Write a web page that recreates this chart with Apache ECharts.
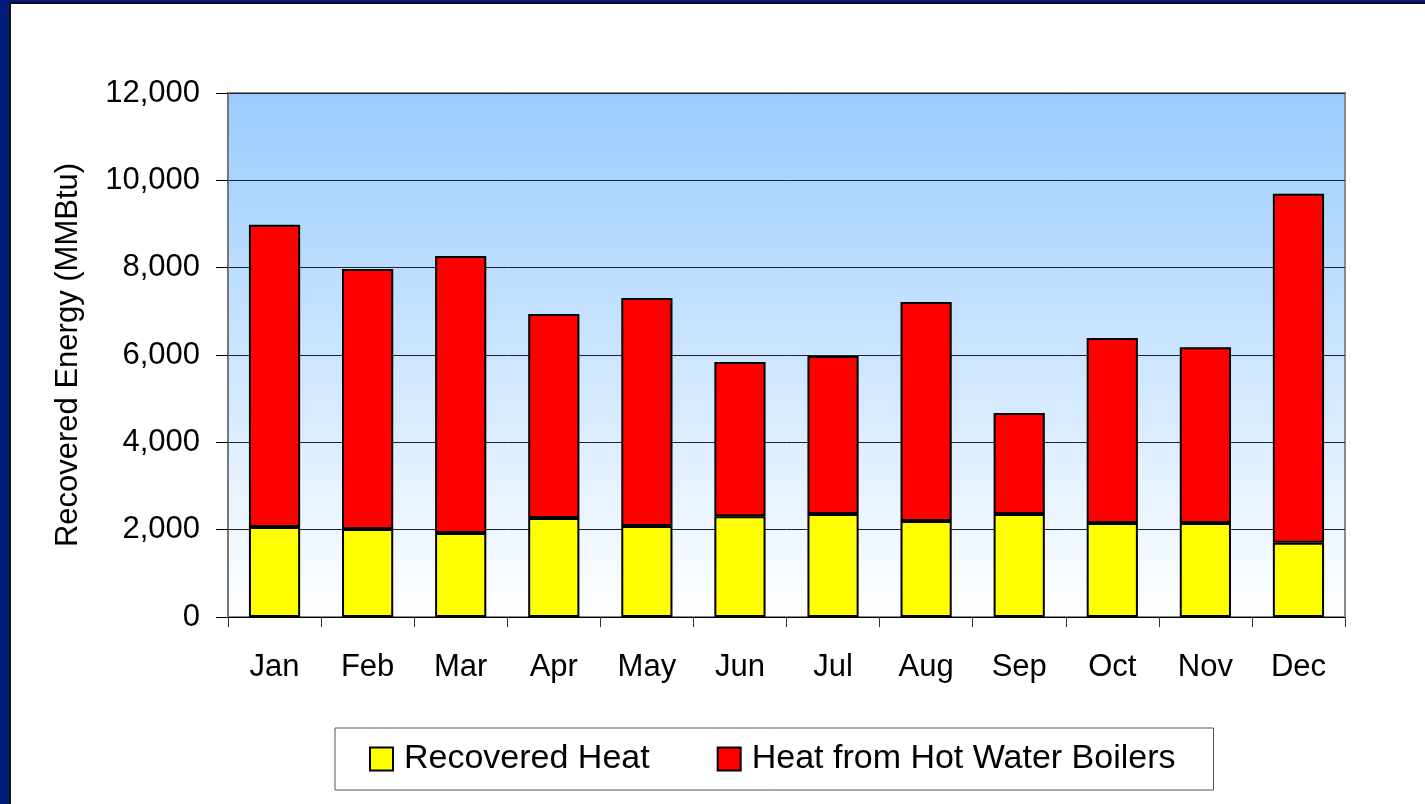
<!DOCTYPE html>
<html>
<head>
<meta charset="utf-8">
<script src="https://cdn.jsdelivr.net/npm/echarts@6/dist/echarts.min.js"></script>
<style>
  html, body { margin: 0; padding: 0; width: 1425px; height: 804px; overflow: hidden; background: #021c7c; }
  #frame { position: absolute; left: 9px; top: 2px; width: 1500px; height: 900px; background: #ffffff; border-left: 2px solid #111; border-top: 2px solid #111; }
  #chart { position: absolute; left: 0; top: 0; width: 1425px; height: 804px; }
</style>
</head>
<body>
<div id="frame"></div>
<div id="chart"></div>
<script>
const categories = ['Jan', 'Feb', 'Mar', 'Apr', 'May', 'Jun', 'Jul', 'Aug', 'Sep', 'Oct', 'Nov', 'Dec'];
const recoveredHeat = [2060, 2015, 1925, 2270, 2085, 2310, 2360, 2200, 2360, 2150, 2150, 1700];
const boilerHeat = [6920, 5955, 6345, 4670, 5220, 3530, 3615, 5015, 2310, 4240, 4030, 7990];
const seriesNames = ['Recovered Heat', 'Heat from Hot Water Boilers'];
const yAxisName = 'Recovered Energy (MMBtu)';
const yMin = 0, yMax = 12000, yInterval = 2000;

const chart = echarts.init(document.getElementById('chart'), null, { renderer: 'canvas' });
const font = '"Liberation Sans", Arial, sans-serif';
chart.setOption({
  backgroundColor: 'transparent',
  animation: false,
  grid: {
    left: 228, top: 93, width: 1117, height: 524,
    show: true,
    borderColor: '#8a8a8a', borderWidth: 2,
    backgroundColor: new echarts.graphic.LinearGradient(0, 0, 0, 1, [
      { offset: 0, color: '#99ccff' },
      { offset: 1, color: '#ffffff' }
    ])
  },
  legend: {
    left: 335, top: 728,
    padding: [14, 38, 14, 34],
    itemGap: 67,
    itemWidth: 23, itemHeight: 23,
    borderColor: '#555', borderWidth: 1,
    backgroundColor: '#ffffff',
    icon: 'rect',
    textStyle: { fontFamily: font, fontSize: 34, color: '#000', padding: [0, 0, 0, 6] },
    itemStyle: { borderColor: '#000', borderWidth: 2 },
    data: seriesNames
  },
  xAxis: {
    type: 'category',
    data: categories,
    axisLine: { lineStyle: { color: '#000', width: 1 } },
    axisTick: { show: true, length: 10, lineStyle: { color: '#333' } },
    axisLabel: { fontFamily: font, fontSize: 31, color: '#000', margin: 35 }
  },
  yAxis: {
    type: 'value',
    min: yMin, max: yMax, interval: yInterval,
    name: yAxisName,
    nameLocation: 'middle',
    nameGap: 144,
    nameTextStyle: { fontFamily: font, fontSize: 31, color: '#000' },
    axisLine: { show: true, lineStyle: { color: '#777', width: 2 } },
    axisTick: { show: true, length: 12, lineStyle: { color: '#000' } },
    axisLabel: {
      fontFamily: font, fontSize: 31, color: '#000', margin: 28,
      formatter: v => v.toLocaleString('en-US')
    },
    splitLine: { show: true, lineStyle: { color: '#222', width: 1 } }
  },
  series: [
    {
      name: seriesNames[0], type: 'bar', stack: 'total', data: recoveredHeat,
      barWidth: '55%',
      itemStyle: { color: '#ffff00', borderColor: '#000', borderWidth: 2 }
    },
    {
      name: seriesNames[1], type: 'bar', stack: 'total', data: boilerHeat,
      barWidth: '55%',
      itemStyle: { color: '#ff0000', borderColor: '#000', borderWidth: 2 }
    }
  ]
});
</script>
</body>
</html>
